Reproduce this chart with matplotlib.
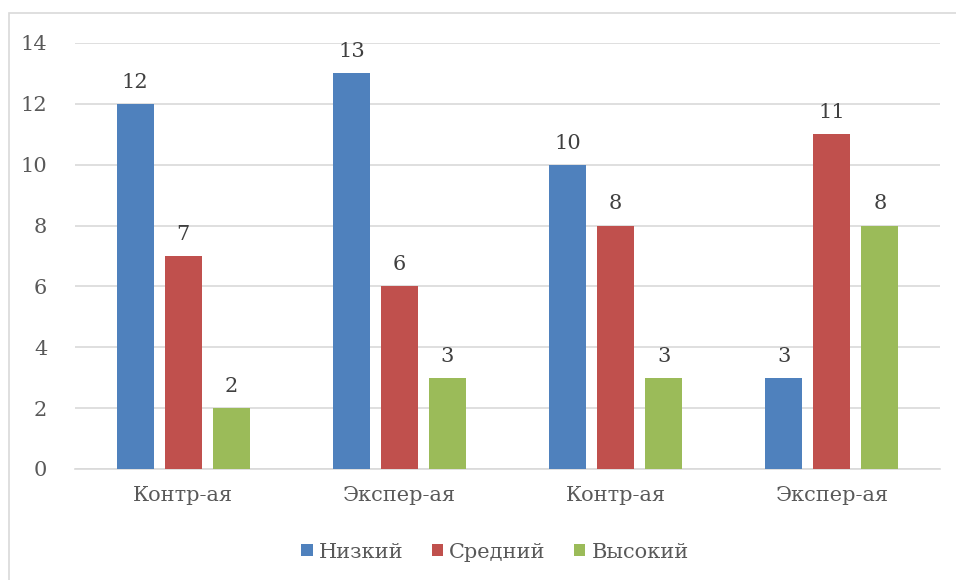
import matplotlib.pyplot as plt
from matplotlib.patches import Rectangle
import numpy as np

# группы и уровни
groups = ["Контр-ая", "Экспер-ая", "Контр-ая", "Экспер-ая"]
levels = ["Низкий", "Средний", "Высокий"]
nizkiy = [12, 13, 10, 3]
sredniy = [7, 6, 8, 11]
vysokiy = [2, 3, 3, 8]

colors = ["#4F81BD", "#C0504D", "#9BBB59"]
plt.rcParams['font.family'] = ['DejaVu Serif']
fs = 15

fig = plt.figure(figsize=(9.56, 5.8), dpi=100)
ax = fig.add_axes([75 / 956, 1 - 469 / 580, 865 / 956, 426 / 580])

# рамка диаграммы (видна только сверху и слева)
fig.patches.append(Rectangle((8.5 / 956, -0.1), 1.2, 1 - 13.5 / 580 + 0.1,
                             transform=fig.transFigure, fill=False,
                             edgecolor="#d9d9d9", linewidth=1.2))

x = np.arange(len(groups))
w = 0.171
step = 0.222
for i, (vals, col, lab) in enumerate(zip([nizkiy, sredniy, vysokiy], colors, levels)):
    bars = ax.bar(x + (i - 1) * step, vals, width=w, color=col, label=lab, zorder=3)
    for b, v in zip(bars, vals):
        ax.text(b.get_x() + b.get_width() / 2, v + 0.4, str(v), ha="center", va="bottom",
                fontsize=fs, color="#404040")

ax.set_xlim(-0.5, 3.5)
ax.set_ylim(0, 14)
ax.set_yticks(range(0, 15, 2))
ax.set_xticks(x)
ax.set_xticklabels(groups)
ax.yaxis.grid(True, color="#d9d9d9", linewidth=1.2, zorder=0)
for s in ["top", "right", "left"]:
    ax.spines[s].set_visible(False)
ax.spines["bottom"].set_color("#d9d9d9")
ax.spines["bottom"].set_linewidth(1.2)
ax.tick_params(axis="both", length=0, labelsize=fs, labelcolor="#595959")
ax.tick_params(axis="y", pad=20)
ax.tick_params(axis="x", pad=12)

ax.legend(loc="center", bbox_to_anchor=(0.4855, -0.195), ncol=3, frameon=False,
          fontsize=fs, handlelength=0.55, handleheight=0.55, handletextpad=0.3,
          columnspacing=1.34, labelcolor="#595959")

fig.savefig("out.png", dpi=100)
